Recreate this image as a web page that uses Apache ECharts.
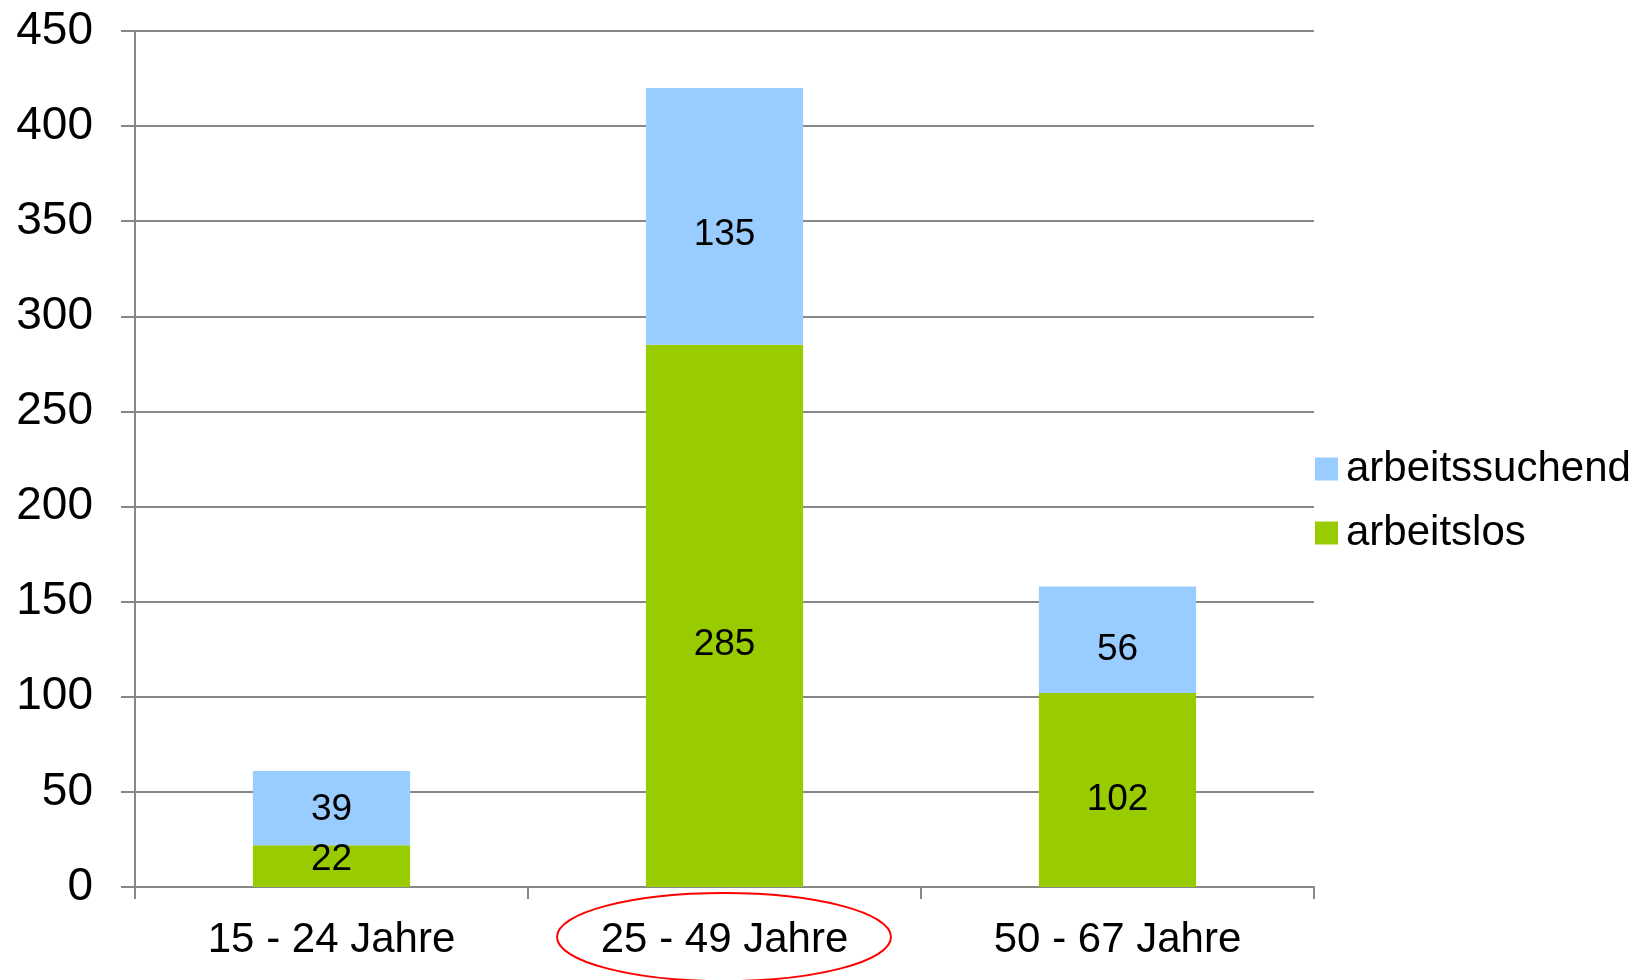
<!DOCTYPE html>
<html><head><meta charset="utf-8">
<script src="https://cdn.jsdelivr.net/npm/echarts@6/dist/echarts.min.js"></script>
<style>html,body{margin:0;padding:0;background:#fff}#c{width:1638px;height:980px}</style>
</head><body><div id="c"></div>
<script>
const categories = ['15 - 24 Jahre', '25 - 49 Jahre', '50 - 67 Jahre'];
const arbeitslos = [22, 285, 102];
const arbeitssuchend = [39, 135, 56];
const yTicks = [0, 50, 100, 150, 200, 250, 300, 350, 400, 450];

// label vertical nudges (style only), mimicking the original placement
const losLabelShift = [-6, 29, 10];
const suchLabelShift = [2, 18, 10];

const FONT = '"Liberation Sans", Arial, sans-serif';
const chart = echarts.init(document.getElementById('c'));
const mk = (vals, shifts) => vals.map((v, i) => ({ value: v, label: { offset: [0, shifts[i]] } }));
chart.setOption({
  animation: false,
  textStyle: { fontFamily: FONT },
  grid: { left: 135, right: 324, top: 31, bottom: 93, containLabel: false },
  legend: {
    orient: 'vertical', left: 1310, top: 443, itemGap: 22,
    itemWidth: 23, itemHeight: 23, icon: 'rect',
    data: ['arbeitssuchend', 'arbeitslos'],
    textStyle: { fontSize: 42, color: '#000', fontFamily: FONT, padding: [0, 0, 0, 3] }
  },
  xAxis: {
    type: 'category', data: categories,
    axisLine: { lineStyle: { color: '#878787', width: 2 } },
    axisTick: { show: true, length: 12, lineStyle: { color: '#878787', width: 2 } },
    axisLabel: { fontSize: 42, color: '#000', margin: 32, fontFamily: FONT }
  },
  yAxis: {
    type: 'value', min: yTicks[0], max: yTicks[yTicks.length - 1], interval: 50,
    axisLine: { show: true, lineStyle: { color: '#878787', width: 2 } },
    axisTick: { show: true, length: 14, lineStyle: { color: '#878787', width: 2 } },
    splitLine: { lineStyle: { color: '#878787', width: 2 } },
    axisLabel: { fontSize: 46, color: '#000', margin: 42, fontFamily: FONT }
  },
  series: [
    { name: 'arbeitslos', type: 'bar', stack: 'a', barWidth: '40%',
      itemStyle: { color: '#99CC00' }, data: mk(arbeitslos, losLabelShift),
      label: { show: true, position: 'inside', fontSize: 37, color: '#000', fontFamily: FONT } },
    { name: 'arbeitssuchend', type: 'bar', stack: 'a', barWidth: '40%',
      itemStyle: { color: '#99CCFF' }, data: mk(arbeitssuchend, suchLabelShift),
      label: { show: true, position: 'inside', fontSize: 37, color: '#000', fontFamily: FONT } }
  ],
  graphic: [{
    type: 'ellipse', shape: { cx: 724, cy: 937, rx: 167, ry: 44 },
    style: { fill: null, stroke: '#FF0000', lineWidth: 2 }, z: 100
  }]
});
</script></body></html>
